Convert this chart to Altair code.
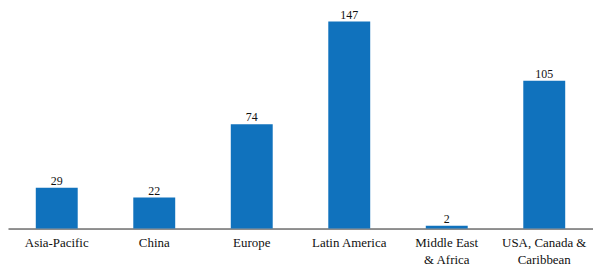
import altair as alt
import pandas as pd

regions = ["Asia-Pacific", "China", "Europe", "Latin America", "Middle East\n& Africa", "USA, Canada &\nCaribbean"]
values = [29, 22, 74, 147, 2, 105]

df = pd.DataFrame({"region": regions, "value": values})

FONT = "Liberation Serif"

base = alt.Chart(df).encode(
    x=alt.X("region:N", sort=None,
            scale=alt.Scale(paddingInner=0.57, paddingOuter=0.285),
            axis=alt.Axis(title=None, labelAngle=0, ticks=False, domainColor="#222222",
                          domainWidth=1, labelFont=FONT, labelFontSize=13, labelColor="#111111",
                          labelPadding=8, labelLineHeight=17,
                          labelExpr="split(datum.label, '\\n')")),
    y=alt.Y("value:Q", scale=alt.Scale(domain=[0, 147], nice=False), axis=None),
)

bars = base.mark_bar(color="#1072BD")
text = base.mark_text(dy=-3, baseline="alphabetic", font=FONT, fontSize=12, color="#111111").encode(
    text="value:Q")

chart = (bars + text).properties(width=588, height=208, padding=0).configure_view(stroke=None)

chart.save("out.html", embed_options={"renderer": "svg", "actions": False})
